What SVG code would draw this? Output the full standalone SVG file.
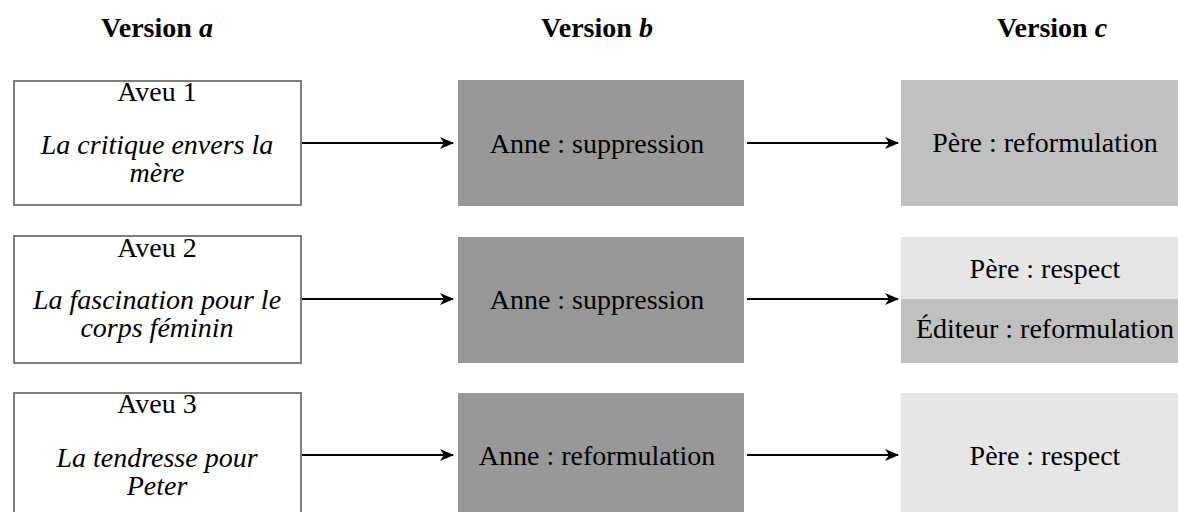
<svg xmlns="http://www.w3.org/2000/svg" width="1178" height="512" viewBox="0 0 1178 512">
<style>
text{font-family:"Liberation Serif","Times New Roman",serif;font-size:28px;fill:#000;text-anchor:middle}
.h{font-weight:bold}
.i{font-style:italic}
.a{fill:#fff;stroke:#555;stroke-width:1.5}
.b{fill:#989898}
.c1{fill:#c0c0c0}
.c2{fill:#e6e6e6}
.e{stroke:#000;stroke-width:2;fill:none}
</style>
<defs>
<marker id="ar" viewBox="0 0 14 12" refX="13" refY="6" markerWidth="14" markerHeight="12" markerUnits="userSpaceOnUse" orient="auto">
<path d="M0,0 L14,6 L0,12 L4,6 Z" fill="#000"/>
</marker>
</defs>
<g id="headers">
<text class="h" x="157" y="37">Version <tspan class="i">a</tspan></text>
<text class="h" x="597" y="37">Version <tspan class="i">b</tspan></text>
<text class="h" x="1052" y="37">Version <tspan class="i">c</tspan></text>
</g>
<g id="a1"><rect class="a" x="14" y="81" width="287" height="124"/>
<text x="157" y="101">Aveu 1</text>
<text class="i" x="157" y="154">La critique envers la</text>
<text class="i" x="157" y="182">mère</text></g>
<g id="a2"><rect class="a" x="14" y="236" width="287" height="127"/>
<text x="157" y="257">Aveu 2</text>
<text class="i" x="157" y="309">La fascination pour le</text>
<text class="i" x="157" y="337">corps féminin</text></g>
<g id="a3"><rect class="a" x="14" y="393" width="287" height="127"/>
<text x="157" y="413">Aveu 3</text>
<text class="i" x="157" y="467">La tendresse pour</text>
<text class="i" x="157" y="495">Peter</text></g>
<g id="b1"><rect class="b" x="458" y="80" width="286" height="126"/>
<text x="597" y="153">Anne : suppression</text></g>
<g id="b2"><rect class="b" x="458" y="237" width="286" height="126"/>
<text x="597" y="309">Anne : suppression</text></g>
<g id="b3"><rect class="b" x="458" y="393" width="286" height="126"/>
<text x="597" y="465">Anne : reformulation</text></g>
<g id="c1"><rect class="c1" x="901" y="80" width="287" height="126"/>
<text x="1045" y="152">Père : reformulation</text></g>
<g id="c2"><rect class="c2" x="901" y="237" width="287" height="62"/>
<rect class="c1" x="901" y="299" width="287" height="64"/>
<text x="1045" y="278">Père : respect</text>
<text x="1045" y="338">Éditeur : reformulation</text></g>
<g id="c3"><rect class="c2" x="901" y="393" width="287" height="126"/>
<text x="1045" y="465">Père : respect</text></g>
<g id="connectors">
<path class="e" d="M302,143 H453" marker-end="url(#ar)"/>
<path class="e" d="M747,143 H898" marker-end="url(#ar)"/>
<path class="e" d="M302,299 H453" marker-end="url(#ar)"/>
<path class="e" d="M747,299 H898" marker-end="url(#ar)"/>
<path class="e" d="M302,455 H453" marker-end="url(#ar)"/>
<path class="e" d="M747,455 H898" marker-end="url(#ar)"/>
</g>
</svg>
